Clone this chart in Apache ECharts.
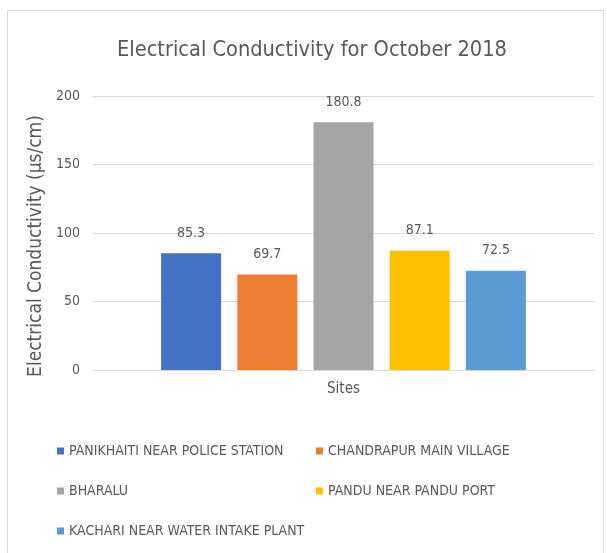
<!DOCTYPE html>
<html>
<head>
<meta charset="utf-8">
<script src="https://cdn.jsdelivr.net/npm/echarts@6/dist/echarts.min.js"></script>
<style>
  html, body { margin: 0; padding: 0; background: #fff; }
  #chart { width: 607px; height: 553px; }
</style>
</head>
<body>
<div id="chart"></div>
<script>
// Electrical conductivity by sampling site, October 2018
var categories = ['Sites'];
var siteNames = [
  'PANIKHAITI NEAR POLICE STATION',
  'CHANDRAPUR MAIN VILLAGE',
  'BHARALU',
  'PANDU NEAR PANDU PORT',
  'KACHARI NEAR WATER INTAKE PLANT'
];
var conductivity = [85.3, 69.7, 180.8, 87.1, 72.5];
var siteColors = ['#4472C4', '#ED7D31', '#A5A5A5', '#FFC000', '#5B9BD5'];
var yTicks = { min: 0, max: 200, interval: 50 };

var textFont = '"Liberation Sans Narrow", "DejaVu Sans Condensed", "Roboto Condensed", "Noto Sans", sans-serif';
var grey = '#595959';

var series = siteNames.map(function (name, i) {
  return {
    name: name,
    type: 'bar',
    data: [conductivity[i]],
    barWidth: 60,
    barGap: '27%',
    itemStyle: { color: siteColors[i] },
    label: {
      show: true,
      position: 'top',
      distance: 13,
      color: grey,
      fontFamily: textFont,
      fontSize: 14
    }
  };
});

// one legend entry per slot: two columns, three rows
var legendSlots = [
  { left: 52, top: 439 },
  { left: 311, top: 439 },
  { left: 52, top: 479 },
  { left: 311, top: 479 },
  { left: 52, top: 519 }
];
var legends = siteNames.map(function (name, i) {
  return {
    left: legendSlots[i].left,
    top: legendSlots[i].top,
    icon: 'rect',
    itemWidth: 7,
    itemHeight: 7,
    data: [name],
    selectedMode: false,
    textStyle: {
      color: grey,
      fontFamily: textFont,
      fontSize: 14
    }
  };
});

var option = {
  animation: false,
  backgroundColor: '#ffffff',
  graphic: [{
    type: 'rect',
    shape: { x: 7.5, y: 10.5, width: 596, height: 560 },
    style: { fill: 'none', stroke: '#d9d9d9', lineWidth: 1 },
    silent: true
  }],
  title: {
    text: 'Electrical Conductivity for October 2018',
    left: 112,
    top: 34,
    textStyle: {
      color: grey,
      fontFamily: textFont,
      fontSize: 21.6,
      fontWeight: 'normal'
    }
  },
  legend: legends,
  grid: {
    left: 93,
    right: 13,
    top: 96,
    bottom: 183,
    containLabel: false
  },
  xAxis: {
    type: 'category',
    data: categories,
    axisLine: { lineStyle: { color: '#d9d9d9' } },
    axisTick: { show: false },
    axisLabel: {
      color: grey,
      fontFamily: textFont,
      fontSize: 15,
      margin: 12
    }
  },
  yAxis: {
    type: 'value',
    min: yTicks.min,
    max: yTicks.max,
    interval: yTicks.interval,
    name: 'Electrical Conductivity (µs/cm)',
    nameLocation: 'middle',
    nameGap: 28,
    nameTextStyle: {
      color: grey,
      fontFamily: textFont,
      fontSize: 19,
      padding: [0, 0, 0, -26]
    },
    axisLine: { show: false },
    axisTick: { show: false },
    axisLabel: {
      color: grey,
      fontFamily: textFont,
      fontSize: 14,
      margin: 13
    },
    splitLine: { lineStyle: { color: '#d9d9d9', width: 1 } }
  },
  series: series
};

var chart = echarts.init(document.getElementById('chart'), null, { renderer: 'canvas' });
chart.setOption(option);
</script>
</body>
</html>
